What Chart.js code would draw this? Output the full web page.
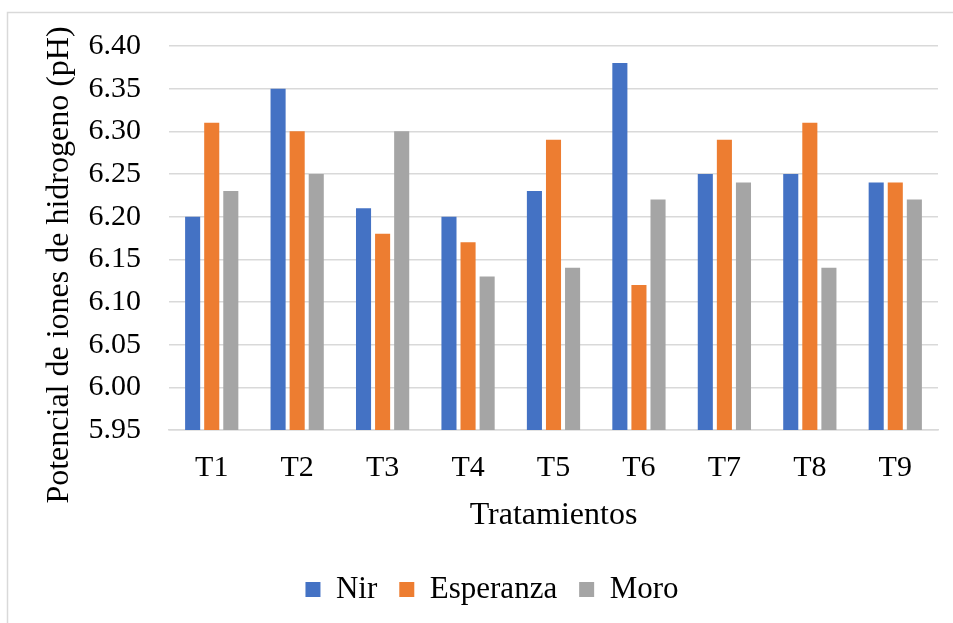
<!DOCTYPE html>
<html>
<head>
<meta charset="utf-8">
<script src="https://cdn.jsdelivr.net/npm/chart.js@4"></script>
<style>
  html, body { margin: 0; padding: 0; background: #fff; }
  #wrap { width: 953px; height: 623px; }
</style>
</head>
<body>
<div id="wrap"><canvas id="chart" width="953" height="623"></canvas></div>
<script>
const categories = ["T1", "T2", "T3", "T4", "T5", "T6", "T7", "T8", "T9"];
const nir = [6.20, 6.35, 6.21, 6.20, 6.23, 6.38, 6.25, 6.25, 6.24];
const esperanza = [6.31, 6.30, 6.18, 6.17, 6.29, 6.12, 6.29, 6.31, 6.24];
const moro = [6.23, 6.25, 6.30, 6.13, 6.14, 6.22, 6.24, 6.14, 6.22];
const yTitle = "Potencial de iones de hidrogeno (pH)";
const xTitle = "Tratamientos";

const FONT = "'Liberation Serif', 'Times New Roman', serif";
Chart.defaults.font.family = FONT;
Chart.defaults.color = "#000";

// light frame around the chart, open on the right and bottom
const framePlugin = {
  id: "frame",
  beforeDraw(chart) {
    const c = chart.ctx;
    c.save();
    c.fillStyle = "#fff";
    c.fillRect(0, 0, chart.width, chart.height);
    c.strokeStyle = "#d9d9d9";
    c.lineWidth = 1.5;
    c.beginPath();
    c.moveTo(7.5, chart.height + 2);
    c.lineTo(7.5, 12.5);
    c.lineTo(chart.width + 2, 12.5);
    c.stroke();
    c.restore();
  }
};

// y title sits a bit lower than the plot centre in the original
const yTitlePlugin = {
  id: "yTitle",
  afterDraw(chart) {
    const c = chart.ctx;
    c.save();
    c.translate(60, 265);
    c.rotate(-Math.PI / 2);
    c.font = "32px " + FONT;
    c.fillStyle = "#000";
    c.textAlign = "center";
    c.textBaseline = "middle";
    c.fillText(yTitle, 0, 0);
    c.restore();
  }
};

const ds = (label, data, color) => ({
  label, data,
  backgroundColor: color,
  borderWidth: 0,
  barPercentage: 0.79,
  categoryPercentage: 0.67
});

new Chart(document.getElementById("chart"), {
  type: "bar",
  data: {
    labels: categories,
    datasets: [
      ds("Nir", nir, "#4472C4"),
      ds("Esperanza", esperanza, "#ED7D31"),
      ds("Moro", moro, "#A5A5A5")
    ]
  },
  options: {
    responsive: false,
    animation: false,
    layout: { padding: { left: 46, top: 43, right: 15, bottom: 8 } },
    plugins: {
      tooltip: { enabled: false },
      legend: {
        position: "bottom",
        labels: {
          font: { size: 31 },
          color: "#000",
          boxWidth: 15,
          boxHeight: 15,
          padding: 22
        }
      }
    },
    scales: {
      x: {
        afterFit(scale) { scale.height = 122; },
        grid: { display: false, drawTicks: false },
        border: { color: "#d9d9d9", width: 1.5 },
        ticks: { font: { size: 30 }, color: "#000", padding: 20 },
        title: {
          display: true, text: xTitle,
          font: { size: 32 }, color: "#000",
          padding: { top: 0, bottom: 17 }
        }
      },
      y: {
        min: 5.95,
        max: 6.40,
        afterFit(scale) { scale.width = 123; },
        border: { display: false },
        grid: { color: "#d9d9d9", lineWidth: 1.5, drawTicks: false },
        ticks: {
          stepSize: 0.05,
          padding: 28,
          font: { size: 30 },
          color: "#000",
          callback: v => Number(v).toFixed(2)
        }
      }
    }
  },
  plugins: [framePlugin, yTitlePlugin]
});
</script>
</body>
</html>
